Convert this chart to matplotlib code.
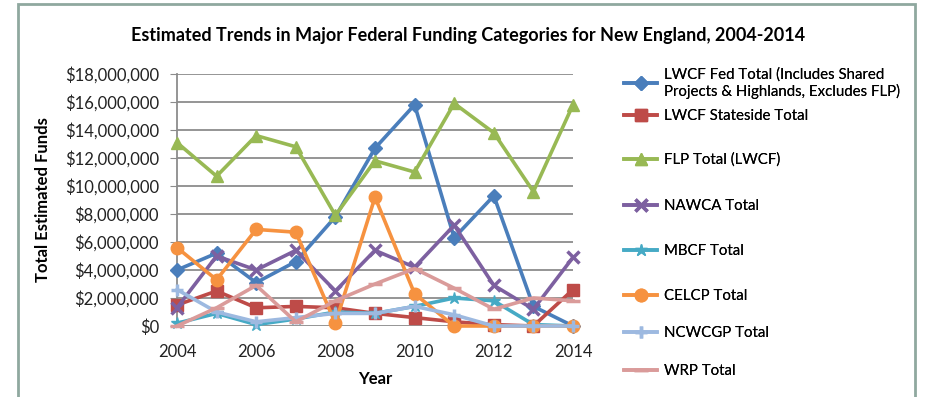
import matplotlib.pyplot as plt
from matplotlib.patches import Rectangle
from matplotlib.ticker import FuncFormatter

plt.rcParams['font.family'] = ['Lato', 'DejaVu Sans']

years = list(range(2004, 2015))

# values in dollars (millions)
lwcf_fed = [4.0, 5.2, 3.1, 4.6, 7.8, 12.7, 15.8, 6.3, 9.3, 1.4, 0.0]
lwcf_state = [1.5, 2.5, 1.3, 1.4, 1.3, 0.9, 0.6, 0.3, 0.1, 0.0, 2.6]
flp = [13.1, 10.7, 13.6, 12.8, 7.9, 11.8, 11.0, 15.9, 13.8, 9.6, 15.8]
nawca = [1.3, 5.0, 4.0, 5.4, 2.5, 5.4, 4.2, 7.2, 2.9, 1.2, 4.9]
mbcf = [0.2, 0.9, 0.1, 0.5, 1.0, 0.9, 1.4, 2.0, 1.8, 0.1, 0.0]
celcp = [5.6, 3.3, 6.9, 6.7, 0.2, 9.2, 2.3, 0.0, 0.0, 0.0, 0.0]
ncwcgp = [2.6, 1.0, 0.3, 0.6, 0.9, 0.9, 1.4, 0.8, 0.0, 0.0, 0.0]
wrp = [0.0, 1.3, 2.9, 0.3, 1.8, 3.0, 4.1, 2.7, 1.2, 2.0, 1.8]

labels = ['LWCF Fed Total (Includes Shared\nProjects & Highlands, Excludes FLP)',
          'LWCF Stateside Total', 'FLP Total (LWCF)', 'NAWCA Total',
          'MBCF Total', 'CELCP Total', 'NCWCGP Total', 'WRP Total']
series = [lwcf_fed, lwcf_state, flp, nawca, mbcf, celcp, ncwcgp, wrp]
colors = ['#4A7EBB', '#BE4B48', '#98B954', '#7D60A0', '#46AAC5',
          '#F69240', '#9DB9E0', '#DA9B9A']
markers = ['D', 's', '^', 'x', '*', 'o', '+', '_']
msizes = [7, 8, 9, 8, 9, 9, 9, 10]

W, H = 926, 397
fig = plt.figure(figsize=(W / 100, H / 100), dpi=100)
fig.patches.append(Rectangle((18 / W, -0.1), (915 - 18) / W, 1.1 - 4 / H,
                             transform=fig.transFigure, fill=False,
                             edgecolor='#8FA89F', linewidth=2))

ax = fig.add_axes([177 / W, 1 - 326 / H, (573 - 177) / W, (326 - 74) / H])

handles = []
for vals, c, m, ms in zip(series, colors, markers, msizes):
    y = [v * 1e6 for v in vals]
    h, = ax.plot(years, y, color=c, lw=2.6, marker=m, markersize=ms,
                 markeredgewidth=2.5 if m in ('x', '+', '_') else 1,
                 markerfacecolor=c, markeredgecolor=c, clip_on=False, zorder=3)
    handles.append(h)

ax.set_xlim(2004, 2014)
ax.set_ylim(0, 18e6)
ax.set_yticks([i * 2e6 for i in range(10)])
ax.set_xticks(range(2004, 2015, 2))
ax.yaxis.set_major_formatter(FuncFormatter(lambda v, p: '${:,.0f}'.format(v)))
ax.grid(axis='y', color='#8C8C8C', lw=1.3)
ax.set_axisbelow(True)
for s in ['top', 'right', 'bottom']:
    ax.spines[s].set_visible(False)
ax.spines['left'].set_color('#8C8C8C')
ax.spines['left'].set_linewidth(1.3)
ax.tick_params(axis='y', length=5, color='#8C8C8C', labelsize=12, pad=8,
               labelcolor='#222222')
ax.tick_params(axis='x', length=0, labelsize=12, pad=13, labelcolor='#222222')

ax.set_xlabel('Year', fontsize=12, fontweight='bold', labelpad=8)
ax.set_ylabel('Total Estimated Funds', fontsize=12, fontweight='bold',
              labelpad=10)
fig.text(468 / W, 1 - 35 / H,
         'Estimated Trends in Major Federal Funding Categories for New England, 2004-2014',
         ha='center', va='center', fontsize=13, fontweight='bold')

# legend entries, one per series, placed like the Excel legend
leg_y = [72, 116, 160, 206, 251, 296, 333, 371]
for h, lab, yy in zip(handles, labels, leg_y):
    off = 11 if '\n' in lab else 0
    lg = fig.legend([h], [lab], loc='center left',
                    bbox_to_anchor=(624 / W, 1 - (yy + off) / H),
                    frameon=False, fontsize=10.8, handlelength=2.2,
                    handletextpad=0.5, borderaxespad=0, borderpad=0)
    fig.add_artist(lg)

fig.savefig('out.png', dpi=100)
